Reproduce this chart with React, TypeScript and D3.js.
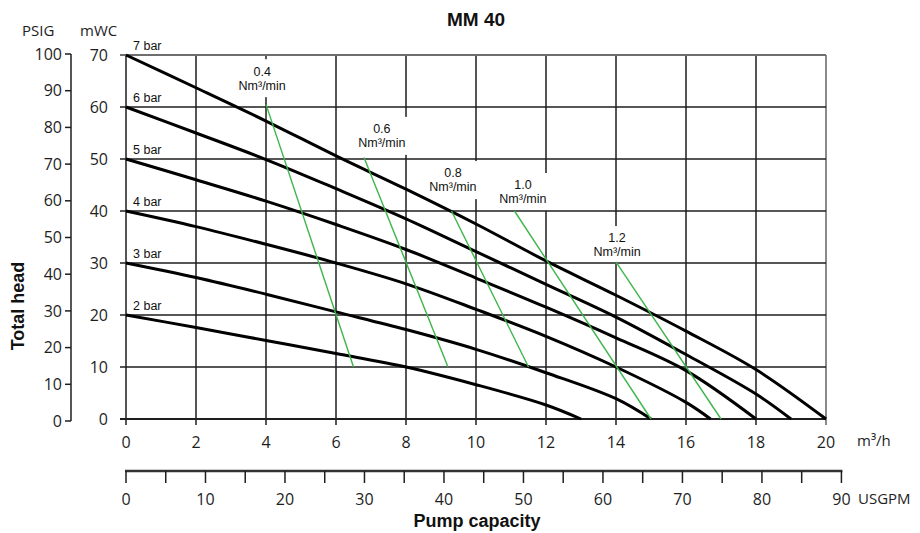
import React, { useEffect, useRef } from 'react';
import * as d3 from 'd3';

// axis ticks
const flowTicks = [0, 2, 4, 6, 8, 10, 12, 14, 16, 18, 20];
const headTicks = [0, 10, 20, 30, 40, 50, 60, 70];
const psigTicks = [0, 10, 20, 30, 40, 50, 60, 70, 80, 90, 100];
const usgpmTicks = [0, 5, 10, 15, 20, 25, 30, 35, 40, 45, 50, 55, 60, 65, 70, 75, 80, 85, 90];
const usgpmLabels = [0, 10, 20, 30, 40, 50, 60, 70, 80, 90];

// pressure curves: [m3/h, mWC]
const pressureNames = ['7 bar', '6 bar', '5 bar', '4 bar', '3 bar', '2 bar'];
const bar7 = [[0, 70], [2, 63.7], [4, 57.3], [6, 50.6], [8, 44.2], [10, 37.5], [12, 30.4], [14, 23.8], [16, 16.9], [18, 9.5], [20, 0]];
const bar6 = [[0, 60], [2, 55.0], [4, 49.9], [6, 44.3], [8, 38.5], [10, 32.2], [12, 25.9], [14, 19.6], [16, 12.4], [18, 4.8], [19, 0]];
const bar5 = [[0, 50], [2, 46.0], [4, 41.9], [6, 37.4], [8, 32.6], [10, 27.1], [12, 21.5], [14, 15.6], [16, 9.3], [18, 0]];
const bar4 = [[0, 40], [2, 37.0], [4, 33.6], [6, 30.0], [8, 26.0], [10, 21.1], [12, 15.9], [14, 10.0], [16, 3.2], [16.7, 0]];
const bar3 = [[0, 30], [2, 27.2], [4, 24.0], [6, 20.6], [8, 17.2], [10, 13.4], [12, 8.9], [14, 3.9], [15, 0]];
const bar2 = [[0, 20], [2, 17.6], [4, 15.1], [6, 12.6], [8, 10.0], [10, 6.6], [12, 2.7], [13, 0]];
const pressureCurves = [bar7, bar6, bar5, bar4, bar3, bar2];

// air consumption lines
const airNames = ['0.4', '0.6', '0.8', '1.0', '1.2'];
const airStart = [[4, 60.5], [6.8, 50.3], [9.3, 40], [11.1, 40], [14, 30.2]];
const airEnd = [[6.5, 10], [9.2, 10], [11.5, 10], [15, 0], [17, 0]];
const airLabelAt = [[3.89, 64.2], [7.31, 53.1], [9.34, 44.6], [11.34, 42.3], [14.03, 32.1]];

const M3H_PER_USGPM = 0.22712;

export default function App() {
  const ref = useRef<SVGSVGElement>(null);

  useEffect(() => {
    draw();
  }, []);

  function draw() {
    const svg = d3.select(ref.current);
    svg.selectAll('*').remove();

    const x = d3.scaleLinear().domain([0, 20]).range([126, 826]);
    const y = d3.scaleLinear().domain([0, 70]).range([419, 55]);
    const psig = d3.scaleLinear().domain([0, 100]).range([421, 54]);
    const gpm = d3.scaleLinear().domain([0, 20 / M3H_PER_USGPM]).range([126, 826]);

    const numFont = '"Open Sans", "Noto Sans", sans-serif';
    const smallFont = '"Liberation Sans", Arial, sans-serif';
    const ink = '#1e1e1e';

    // vertical grid
    svg.append('g')
      .selectAll('line')
      .data(flowTicks)
      .enter()
      .append('line')
      .attr('x1', (d) => x(d))
      .attr('x2', (d) => x(d))
      .attr('y1', y(70))
      .attr('y2', y(0) + 6)
      .attr('stroke', (d) => (d === 20 ? '#8a8a8a' : ink))
      .attr('stroke-width', (d) => (d === 20 ? 2 : 1.5));

    // white boxes behind the air labels
    svg.append('g')
      .selectAll('rect')
      .data(airLabelAt)
      .enter()
      .append('rect')
      .attr('x', (d) => x(d[0]) - 27)
      .attr('y', (d) => y(d[1]) - 26)
      .attr('width', 54)
      .attr('height', 38)
      .attr('fill', '#fff');

    // horizontal grid
    svg.append('g')
      .selectAll('line')
      .data(headTicks.filter((d) => d > 0))
      .enter()
      .append('line')
      .attr('x1', x(0) - 6)
      .attr('x2', x(20))
      .attr('y1', (d) => y(d))
      .attr('y2', (d) => y(d))
      .attr('stroke', (d) => (d === 70 ? '#6e6e6e' : ink))
      .attr('stroke-width', (d) => (d === 70 ? 2 : 1.5));

    svg.append('line')
      .attr('x1', x(0) - 6)
      .attr('x2', x(20))
      .attr('y1', y(0))
      .attr('y2', y(0))
      .attr('stroke', ink)
      .attr('stroke-width', 2.2);

    // pressure curves
    const line = d3.line<number[]>()
      .x((d) => x(d[0]))
      .y((d) => y(d[1]))
      .curve(d3.curveCatmullRom.alpha(0.5));

    svg.append('g')
      .selectAll('path')
      .data(pressureCurves)
      .enter()
      .append('path')
      .attr('d', (d) => line(d))
      .attr('fill', 'none')
      .attr('stroke', '#000')
      .attr('stroke-width', 3);

    // air lines
    svg.append('g')
      .selectAll('line')
      .data(airNames)
      .enter()
      .append('line')
      .attr('x1', (d, i) => x(airStart[i][0]))
      .attr('y1', (d, i) => y(airStart[i][1]))
      .attr('x2', (d, i) => x(airEnd[i][0]))
      .attr('y2', (d, i) => y(airEnd[i][1]))
      .attr('stroke', '#3db54a')
      .attr('stroke-width', 1.4);

    const airG = svg.append('g')
      .attr('font-family', smallFont)
      .attr('font-size', 12.5)
      .attr('fill', '#111')
      .attr('text-anchor', 'middle');
    airNames.forEach((name, i) => {
      const cx = x(airLabelAt[i][0]);
      const cy = y(airLabelAt[i][1]);
      airG.append('text').attr('x', cx).attr('y', cy - 14).attr('dy', '0.35em').text(name);
      airG.append('text').attr('x', cx).attr('y', cy).attr('dy', '0.35em').text('Nm³/min');
    });

    // pressure labels
    svg.append('g')
      .selectAll('text')
      .data(pressureNames)
      .enter()
      .append('text')
      .attr('x', x(0) + 7)
      .attr('y', (d, i) => y(pressureCurves[i][0][1]) - 5)
      .attr('font-family', smallFont)
      .attr('font-size', 12.5)
      .attr('fill', '#111')
      .text((d) => d);

    // mWC labels
    svg.append('g')
      .selectAll('text')
      .data(headTicks)
      .enter()
      .append('text')
      .attr('x', 108)
      .attr('y', (d) => y(d))
      .attr('dy', '0.35em')
      .attr('text-anchor', 'end')
      .attr('font-family', numFont)
      .attr('font-size', 16)
      .attr('fill', ink)
      .text((d) => d);

    // PSIG axis
    svg.append('line')
      .attr('x1', 71).attr('x2', 71)
      .attr('y1', psig(0)).attr('y2', psig(100))
      .attr('stroke', ink).attr('stroke-width', 1.5);
    const pg = svg.append('g');
    pg.selectAll('line')
      .data(psigTicks)
      .enter()
      .append('line')
      .attr('x1', 65).attr('x2', 71)
      .attr('y1', (d) => psig(d)).attr('y2', (d) => psig(d))
      .attr('stroke', ink).attr('stroke-width', 1.5);
    pg.selectAll('text')
      .data(psigTicks)
      .enter()
      .append('text')
      .attr('x', 62)
      .attr('y', (d) => psig(d))
      .attr('dy', '0.35em')
      .attr('text-anchor', 'end')
      .attr('font-family', numFont)
      .attr('font-size', 16)
      .attr('fill', ink)
      .text((d) => d);

    svg.append('text').attr('x', 22).attr('y', 31).attr('dy', '0.35em')
      .attr('font-family', numFont).attr('font-size', 15).attr('fill', ink).text('PSIG');
    svg.append('text').attr('x', 80).attr('y', 31).attr('dy', '0.35em')
      .attr('font-family', numFont).attr('font-size', 15).attr('fill', ink).text('mWC');

    // m3/h labels
    svg.append('g')
      .selectAll('text')
      .data(flowTicks)
      .enter()
      .append('text')
      .attr('x', (d) => x(d))
      .attr('y', 442)
      .attr('dy', '0.35em')
      .attr('text-anchor', 'middle')
      .attr('font-family', numFont)
      .attr('font-size', 16)
      .attr('fill', ink)
      .text((d) => d);
    svg.append('text').attr('x', 857).attr('y', 441).attr('dy', '0.35em')
      .attr('font-family', numFont).attr('font-size', 15).attr('fill', ink).text('m³/h');

    // USGPM axis
    svg.append('line')
      .attr('x1', gpm(0) - 1).attr('x2', gpm(90) + 1)
      .attr('y1', 471).attr('y2', 471)
      .attr('stroke', '#333').attr('stroke-width', 2.5);
    svg.append('g')
      .selectAll('line')
      .data(usgpmTicks)
      .enter()
      .append('line')
      .attr('x1', (d) => gpm(d)).attr('x2', (d) => gpm(d))
      .attr('y1', 471).attr('y2', 483)
      .attr('stroke', ink).attr('stroke-width', 1.5);
    svg.append('g')
      .selectAll('text')
      .data(usgpmLabels)
      .enter()
      .append('text')
      .attr('x', (d) => gpm(d))
      .attr('y', 499)
      .attr('dy', '0.35em')
      .attr('text-anchor', 'middle')
      .attr('font-family', numFont)
      .attr('font-size', 16)
      .attr('fill', ink)
      .text((d) => d);
    svg.append('text').attr('x', 858).attr('y', 499).attr('dy', '0.35em')
      .attr('font-family', numFont).attr('font-size', 15).attr('fill', ink).text('USGPM');

    // titles
    const boldFont = '"Liberation Sans", Arial, sans-serif';
    svg.append('text').attr('x', 476).attr('y', 19).attr('dy', '0.35em')
      .attr('text-anchor', 'middle').attr('font-family', boldFont)
      .attr('font-weight', 'bold').attr('font-size', 19).attr('fill', '#111').text('MM 40');
    svg.append('text').attr('x', 477).attr('y', 521).attr('dy', '0.35em')
      .attr('text-anchor', 'middle').attr('font-family', boldFont)
      .attr('font-weight', 'bold').attr('font-size', 18).attr('fill', '#111').text('Pump capacity');
    svg.append('text')
      .attr('transform', 'translate(18,306) rotate(-90)')
      .attr('dy', '0.35em')
      .attr('text-anchor', 'middle').attr('font-family', boldFont)
      .attr('font-weight', 'bold').attr('font-size', 18).attr('fill', '#111').text('Total head');
  }

  return (
    <div style={{ position: 'absolute', left: 0, top: 0, width: 920, height: 533, background: '#fff' }}>
      <svg ref={ref} width={920} height={533} />
    </div>
  );
}
